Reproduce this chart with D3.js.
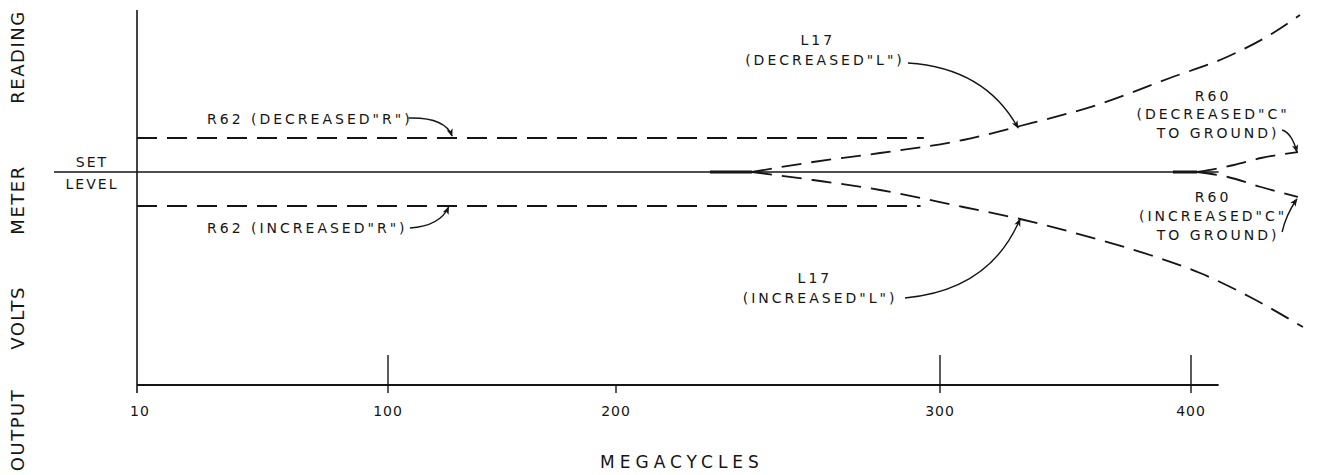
<!DOCTYPE html>
<html><head><meta charset="utf-8">
<script src="https://cdn.jsdelivr.net/npm/d3@7/dist/d3.min.js"></script>
<style>
body{margin:0;background:#fff;}
svg text{font-family:"DejaVu Sans",sans-serif;fill:#151515;}
</style></head><body>
<svg id="chart" width="1325" height="475"></svg>
<script>
// ---- data (x in megacycles, y = output deviation from set level, arbitrary units) ----
const xTicks = [10, 100, 200, 300, 400];
const xTickLabels = ["10", "100", "200", "300", "400"];
const xTickTall = [false, true, false, true, true];
const yAxisWords = ["OUTPUT", "VOLTS", "METER", "READING"];
const xAxisTitle = "MEGACYCLES";
const setLevelValue = 0;

const r62DecX = [10, 295];
const r62DecY = [3.4, 3.4];
const r62IncX = [10, 294];
const r62IncY = [-3.4, -3.4];

const l17DecX = [242, 260.8, 281.5, 309.2, 331.9, 363.7, 391.6, 414.3, 432.7, 443.4];
const l17DecY = [0, 1.0, 1.9, 3.2, 4.6, 6.8, 9.4, 11.5, 13.9, 15.7];
const l17IncX = [242, 260.8, 281.5, 309.2, 331.9, 363.7, 383.7, 403.6, 423.5, 444.6];
const l17IncY = [0, -0.8, -1.8, -3.5, -4.7, -6.8, -8.3, -10.1, -12.5, -15.5];

const r60DecX = [402.4, 417.1, 427.9, 442.6];
const r60DecY = [0, 0.7, 1.4, 2.0];
const r60IncX = [402.4, 414.7, 427.9, 442.6];
const r60IncY = [0, -0.5, -1.5, -2.5];

// heavier start segments on the set-level line
const startMarksX = [[229, 242], [392.8, 402.4]];

// annotation texts (each line) and anchors in data coordinates
const annTexts = [
  ["R62 (DECREASED\"R\")"],
  ["R62 (INCREASED\"R\")"],
  ["L17", "(DECREASED\"L\")"],
  ["L17", "(INCREASED\"L\")"],
  ["R60", "(DECREASED\"C\"", "TO GROUND)"],
  ["R60", "(INCREASED\"C\"", "TO GROUND)"]
];
const annAlign = ["start", "start", "middle", "middle", "middle", "middle"];
const annTextX = [[35.1], [35.1], [262.3, 264.5], [261.4, 263], [408.8, 408.8, 410.8], [408.8, 408.8, 410.8]];
const annTextY = [[5.3], [-5.6], [13.2, 11.2], [-10.6, -12.6], [7.6, 5.8, 3.9], [-2.5, -4.4, -6.3]];
// arrows: [start, control, end] in data coords
const annArrowX = [[109.0, 125.0, 128.1], [109.6, 122.8, 126.6], [290.1, 318, 331.1], [289.2, 320, 331.9], [436.3, 440.2, 442.2], [436.3, 437.8, 442.2]];
const annArrowY = [[5.4, 5.5, 3.6], [-5.6, -5.4, -3.5], [10.9, 10.4, 4.4], [-12.6, -11.8, -4.7], [4.2, 3.9, 2.0], [-6.0, -4.3, -2.7]];

// ---- drawing ----
const svg = d3.select("#chart");
const x = d3.scaleLinear().domain(xTicks).range([137, 388, 616, 940, 1191]);
const xEnd = 411;
const y = d3.scaleLinear().domain([-21.3, 16.2]).range([385, 10]);
const base = y.range()[0];

const ink = "#151515";

svg.append("defs").append("marker")
  .attr("id", "ah").attr("viewBox", "0 0 10 10").attr("refX", 9).attr("refY", 5)
  .attr("markerWidth", 11).attr("markerHeight", 8).attr("markerUnits", "userSpaceOnUse")
  .attr("orient", "auto")
  .append("path").attr("d", "M0,1 L10,5 L0,9 L2.5,5 Z").attr("fill", ink);

// axes
svg.append("line").attr("x1", x(10)).attr("x2", x(10)).attr("y1", y(16.2)).attr("y2", base + 8)
  .attr("stroke", ink).attr("stroke-width", 1.6);
svg.append("line").attr("x1", x(10)).attr("x2", x(xEnd)).attr("y1", base).attr("y2", base)
  .attr("stroke", ink).attr("stroke-width", 1.8);

xTicks.forEach((t, i) => {
  if (i === 0) return;
  svg.append("line").attr("x1", x(t)).attr("x2", x(t))
    .attr("y1", xTickTall[i] ? base - 30 : base).attr("y2", base + 8)
    .attr("stroke", ink).attr("stroke-width", 1.4);
});
xTicks.forEach((t, i) => {
  svg.append("text").attr("x", x(t) + (i === 0 ? 3 : 0)).attr("y", base + 31)
    .attr("text-anchor", "middle").style("font-size", "14px").style("letter-spacing", "1px")
    .text(xTickLabels[i]);
});

// set level line
svg.append("line").attr("x1", x(10) - 83).attr("x2", x(xEnd)).attr("y1", y(setLevelValue)).attr("y2", y(setLevelValue))
  .attr("stroke", ink).attr("stroke-width", 1.6);
svg.append("text").attr("x", x(10) - 45).attr("y", y(setLevelValue) - 5).attr("text-anchor", "middle")
  .style("font-size", "14px").style("letter-spacing", "2px").text("SET");
svg.append("text").attr("x", x(10) - 45).attr("y", y(setLevelValue) + 17).attr("text-anchor", "middle")
  .style("font-size", "14px").style("letter-spacing", "2px").text("LEVEL");

startMarksX.forEach(s => {
  svg.append("line").attr("x1", x(s[0])).attr("x2", x(s[1])).attr("y1", y(0)).attr("y2", y(0))
    .attr("stroke", ink).attr("stroke-width", 3);
});

// y axis title (rotated words)
const yWordCenters = [430, 318, 200, 57];
yAxisWords.forEach((w, i) => {
  svg.append("text").attr("transform", `translate(24,${yWordCenters[i]}) rotate(-90)`)
    .attr("text-anchor", "middle").style("font-size", "18px").style("letter-spacing", "1.5px")
    .text(w);
});

// x axis title
svg.append("text").attr("x", 682).attr("y", 468).attr("text-anchor", "middle")
  .style("font-size", "17px").style("letter-spacing", "5px").text(xAxisTitle);

// dashed series
const line = d3.line().x(d => x(d[0])).y(d => y(d[1])).curve(d3.curveMonotoneX);
const series = [
  [r62DecX, r62DecY], [r62IncX, r62IncY],
  [l17DecX, l17DecY], [l17IncX, l17IncY],
  [r60DecX, r60DecY], [r60IncX, r60IncY]
];
series.forEach(([xs, ys]) => {
  svg.append("path").datum(xs.map((v, i) => [v, ys[i]]))
    .attr("d", line).attr("fill", "none").attr("stroke", ink)
    .attr("stroke-width", 1.8).attr("stroke-dasharray", "20,10");
});

// annotations
annTexts.forEach((lines, k) => {
  lines.forEach((t, j) => {
    svg.append("text").attr("x", x(annTextX[k][j])).attr("y", y(annTextY[k][j]))
      .attr("dominant-baseline", "central").attr("text-anchor", annAlign[k])
      .style("font-size", "14px").style("letter-spacing", "3px").text(t);
  });
  const ax = annArrowX[k], ay = annArrowY[k];
  const path = d3.path();
  path.moveTo(x(ax[0]), y(ay[0]));
  path.quadraticCurveTo(x(ax[1]), y(ay[1]), x(ax[2]), y(ay[2]));
  svg.append("path").attr("d", path.toString()).attr("fill", "none")
    .attr("stroke", ink).attr("stroke-width", 1.4).attr("marker-end", "url(#ah)");
});
</script>
</body></html>
